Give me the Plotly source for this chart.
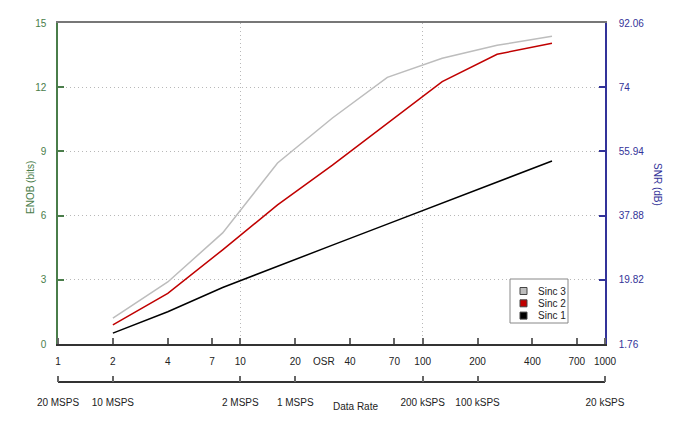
import plotly.graph_objects as go

osr = [2, 4, 8, 16, 32, 64, 128, 256, 512]
sinc3 = [1.21, 2.90, 5.19, 8.46, 10.56, 12.46, 13.35, 13.96, 14.38]
sinc2 = [0.89, 2.37, 4.40, 6.50, 8.36, 10.31, 12.26, 13.54, 14.05]
sinc1 = [0.51, 1.51, 2.64, 3.64, 4.62, 5.60, 6.58, 7.57, 8.55]

osr_ticks = [1, 2, 4, 7, 10, 20, 40, 70, 100, 200, 400, 700, 1000]
rate_ticks = [1, 2, 10, 20, 100, 200, 1000]
rate_labels = ["20 MSPS", "10 MSPS", "2 MSPS", "1 MSPS", "200 kSPS", "100 kSPS", "20 kSPS"]
enob_ticks = [0, 3, 6, 9, 12, 15]
snr_labels = ["1.76", "19.82", "37.88", "55.94", "74", "92.06"]

names = ["Sinc 3", "Sinc 2", "Sinc 1"]
colors = ["#bdbdbd", "#c00000", "#000000"]
values = [sinc3, sinc2, sinc1]

GREEN = "#4a7d4a"
NAVY = "#333399"
FONT = "Liberation Sans, Arial, sans-serif"
FS = 10
GRID = dict(showgrid=True, gridcolor="#b8b8b8", griddash="1px,3px", gridwidth=1)

fig = go.Figure()
for name, ys, col in zip(names, values, colors):
    fig.add_trace(go.Scatter(x=osr, y=ys, mode="lines", name=name,
                             line=dict(color=col, width=1.5),
                             showlegend=False, hoverinfo="skip"))
for ax in ["x2", "x3", "x4", "x5"]:
    fig.add_trace(go.Scatter(x=[None], y=[None], xaxis=ax, showlegend=False))
fig.add_trace(go.Scatter(x=[None], y=[None], yaxis="y2", showlegend=False))

W, H = 700, 448
L, R, T, B = 58, 95, 23, 30
pw, ph = W - L - R, H - T - B


def px(pix):
    return (pix - L) / pw


def py(pix):
    return (H - B - pix) / ph


# helper axes (side top, outside ticks) provide the upward tick marks
tick_helper = dict(type="log", range=[0, 3], overlaying="x", anchor="free", side="top",
                   showticklabels=False, ticks="outside", ticklen=6, tickwidth=1.5,
                   tickcolor="#666", showline=False, showgrid=False, zeroline=False)

fig.update_layout(
    width=W, height=H,
    margin=dict(l=L, r=R, t=T, b=B),
    paper_bgcolor="white", plot_bgcolor="white",
    font=dict(family=FONT, size=FS, color="#222"),
    showlegend=False,
    xaxis=dict(type="log", range=[0, 3], domain=[0, 1], anchor="y",
               tickvals=osr_ticks, ticktext=[str(v) for v in osr_ticks],
               ticks="", showline=True, linecolor="#333", linewidth=1.5,
               showgrid=False, zeroline=False, ticklabelstandoff=7,
               tickfont=dict(color="#222", size=FS)),
    xaxis2=dict(type="log", range=[0, 3], overlaying="x", anchor="free", position=py(382),
                tickvals=rate_ticks, ticktext=rate_labels,
                ticks="", showline=True, linecolor="#333", linewidth=1.5,
                showgrid=False, zeroline=False, ticklabelstandoff=11,
                tickfont=dict(color="#222", size=FS)),
    xaxis3=dict(type="log", range=[0, 3], overlaying="x", anchor="y", side="top",
                tickvals=[10, 100], showticklabels=False, ticks="",
                showline=True, linecolor="#777", linewidth=1.5, zeroline=False, **GRID),
    xaxis4=dict(position=py(344), tickvals=osr_ticks, **tick_helper),
    xaxis5=dict(position=py(382), tickvals=rate_ticks, **tick_helper),
    yaxis=dict(range=[0, 15], domain=[py(344), 1], tickvals=enob_ticks,
               tickcolor=GREEN, ticks="inside", ticklen=6, tickwidth=1.5,
               showline=True, linecolor=GREEN, linewidth=1.5,
               zeroline=False, ticklabelstandoff=8, **GRID,
               tickfont=dict(color=GREEN, size=FS)),
    yaxis2=dict(range=[0, 15], overlaying="y", side="right", anchor="x",
                tickvals=enob_ticks, ticktext=snr_labels,
                tickcolor=NAVY, ticks="inside", ticklen=6, tickwidth=1.5,
                showline=True, linecolor=NAVY, linewidth=1.5,
                showgrid=False, zeroline=False, ticklabelstandoff=10,
                tickfont=dict(color=NAVY, size=FS)),
)

annotations = [
    dict(text="ENOB (bits)", x=px(30), y=py(188), textangle=-90,
         font=dict(color=GREEN, size=FS)),
    dict(text="SNR (dB)", x=px(657), y=py(184), textangle=90,
         font=dict(color=NAVY, size=FS)),
    dict(text="OSR", x=px(324), y=py(361), font=dict(color="#222", size=FS)),
    dict(text="Data Rate", x=px(355), y=py(406), font=dict(color="#222", size=FS)),
]

shapes = [dict(type="rect", xref="paper", yref="paper",
               x0=px(510), x1=px(568), y0=py(323), y1=py(279),
               line=dict(color="#888", width=1), fillcolor="white", layer="above")]
for i, (name, col) in enumerate(zip(names, colors)):
    cy = 291 + 12.3 * i
    shapes.append(dict(type="rect", xref="paper", yref="paper",
                       x0=px(520), x1=px(527), y0=py(cy + 3.5), y1=py(cy - 3.5),
                       line=dict(color="#444", width=1), fillcolor=col, layer="above"))
    annotations.append(dict(text=name, x=px(536), y=py(cy), xanchor="left",
                            font=dict(color="#222", size=FS)))

for a in annotations:
    a.setdefault("xanchor", "center")
    a.update(xref="paper", yref="paper", yanchor="middle", showarrow=False)

fig.update_layout(annotations=annotations, shapes=shapes)

fig.write_html("out.html")
